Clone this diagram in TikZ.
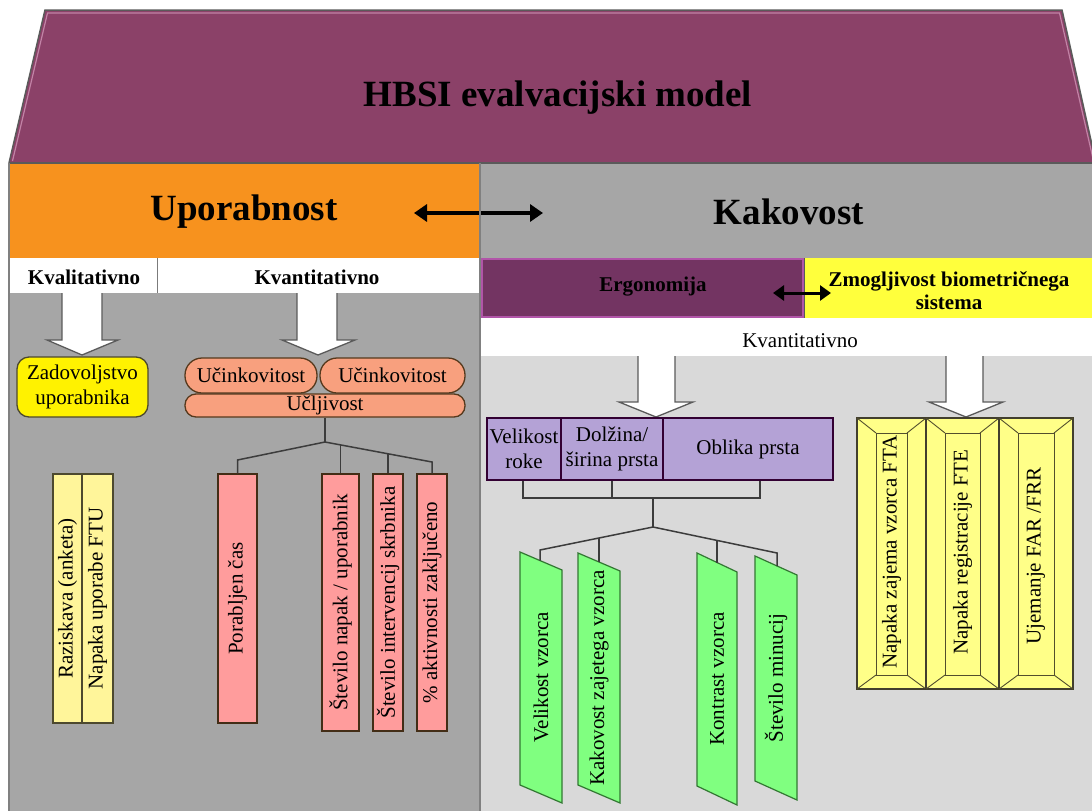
\documentclass[tikz,border=0pt]{standalone}
\usepackage{fontspec}
\setmainfont{Liberation Serif}
\usetikzlibrary{arrows.meta,calc}

\definecolor{roof}{HTML}{8B4168}
\definecolor{roofhi}{HTML}{C283A6}
\definecolor{edge}{HTML}{5A5A5A}
\definecolor{usab}{HTML}{F7921E}
\definecolor{midgray}{HTML}{A6A6A6}
\definecolor{palegray}{HTML}{D9D9D9}
\definecolor{ergo}{HTML}{733462}
\definecolor{ergoedge}{HTML}{B155A8}
\definecolor{perf}{HTML}{FFFF3C}
\definecolor{satis}{HTML}{FFF200}
\definecolor{paleyellow}{HTML}{FFF59A}
\definecolor{salmon}{HTML}{F8A07E}
\definecolor{rose}{HTML}{FF9C9C}
\definecolor{lilac}{HTML}{B4A2D6}
\definecolor{mint}{HTML}{80FF80}
\definecolor{bevelyellow}{HTML}{FFFF88}
\definecolor{wirecol}{HTML}{3C3C3C}

\newcommand\bodyfs{\fontsize{21}{25}\selectfont}
\newcommand\bigfs{\fontsize{37}{40}\selectfont}

\tikzset{
  boxline/.style={draw=edge, line width=1.3pt},
  vtext/.style={rotate=90, inner sep=0pt, font=\bodyfs},
  vbar/.style={boxline, vtext},
  rosebar/.style={vbar, fill=rose, draw=black!65!brown},
  yellowbar/.style={vbar, fill=paleyellow, draw=black!60!olive},
  pill/.style={boxline, fill=salmon, draw=black!55!brown, inner sep=0pt, font=\bodyfs},
  lilacbox/.style={boxline, fill=lilac, draw=black!60!violet, inner sep=0pt, font=\bodyfs, align=center},
  mintbar/.style={draw=black!55!green!60!gray, line width=1.2pt, fill=mint},
  wire/.style={draw=wirecol, line width=1.5pt},
  blockarrow/.style={draw=edge, line width=1.3pt, fill=white},
  dblarrow/.style={line width=3.5pt, {Triangle[length=13pt,width=17pt]}-{Triangle[length=13pt,width=17pt]}},
  smalldbl/.style={line width=3pt, {Triangle[length=11pt,width=15pt]}-{Triangle[length=11pt,width=15pt]}},
  bevelout/.style={draw=black!70!olive, line width=1.4pt, fill=bevelyellow},
  bevelin/.style={draw=black!55!olive, line width=0.9pt},
}

% bevelled yellow bar: name, left x, right x, text, text centre y
\newcommand\bevelbar[5]{%
  \draw[bevelout] (#2,418) rectangle (#3,689);
  \draw[bevelin] (#2+19,433) rectangle (#3-19,675);
  \draw[bevelin] (#2,418) -- (#2+19,433) (#3,418) -- (#3-19,433)
                 (#2,689) -- (#2+19,675) (#3,689) -- (#3-19,675);
  \node[vtext] (#1) at ({(#2+#3)/2},#5) {#4};
}

\begin{document}
\begin{tikzpicture}[x=1pt,y=-1pt]
\useasboundingbox (0,0) rectangle (1092,811);
\fill[white] (0,0) rectangle (1092,811);

% roof
\fill[roof] (45,10) -- (1062,10) -- (1096,163) -- (9,163) -- cycle;
\draw[roofhi, line width=1.2pt] (12.5,161) -- (47.5,13) -- (1059.5,13) -- (1094,163);
\draw[edge, line width=1.5pt] (9,163) -- (45,10) -- (1062,10) -- (1096,163);
\node[font=\bigfs\bfseries] (title) at (558,98) {HBSI evalvacijski model};

% main pillars
\fill[usab] (9,163) rectangle (480,258);
\fill[midgray] (480,163) rectangle (1092,258);
\draw[edge, line width=1.3pt] (9,163) -- (1092,163);
\node[font=\bigfs\bfseries] (upor) at (244,212) {Uporabnost};
\node[font=\bigfs\bfseries] (kak) at (789,212) {Kakovost};
\coordinate (ua) at (414,213);
\coordinate (ka) at (543,213);
\draw[dblarrow] (ua) -- (ka);

% usability panel
\fill[white] (9,258) rectangle (480,293);
\fill[midgray] (9,293) rectangle (480,811);
\draw[edge!80, line width=1pt] (157,258) -- (157,293);
\node[font=\bodyfs\bfseries] (kval) at (84,277) {Kvalitativno};
\node[font=\bodyfs\bfseries] (kvan) at (317,277) {Kvantitativno};

% quality panel
\fill[perf] (804,258) rectangle (1092,318);
\draw[ergoedge, fill=ergo, line width=1.6pt] (482,259) rectangle (803,317);
\draw[edge, line width=1pt] (804,258) -- (804,318);
\fill[white] (480,318) rectangle (1092,356);
\fill[palegray] (480,356) rectangle (1092,811);
\node[font=\bodyfs\bfseries] (ergt) at (653,287) {Ergonomija};
\node[font=\fontsize{21}{23}\selectfont\bfseries, align=center] (zmt) at (949,291) {Zmogljivost biometričnega\\sistema};
\coordinate (ea) at (773,293);
\coordinate (eb) at (831,293);
\draw[smalldbl] (ea) -- (eb);
\node[font=\bodyfs] (kvr) at (800,341) {Kvantitativno};

% panel borders
\draw[black!50, line width=1.6pt] (480,163) -- (480,811);
\draw[black!50, line width=1.6pt] (9,163) -- (9,811);

% block arrows
\draw[blockarrow] (62,293) -- (62,340) -- (47,340) -- (82,355) -- (118,340) -- (102,340) -- (102,293);
\draw[blockarrow] (297,293) -- (297,340) -- (282,340) -- (318,355) -- (355,340) -- (337,340) -- (337,293);
\draw[blockarrow] (638,356) -- (638,402) -- (619,402) -- (656,417) -- (693,402) -- (675,402) -- (675,356);
\draw[blockarrow] (946,356) -- (946,402) -- (929,402) -- (966,417) -- (1003,402) -- (983,402) -- (983,356);

% qualitative usability
\node[boxline, draw=black!60!olive, fill=satis, rounded corners=12pt, minimum width=131pt, minimum height=60pt,
      inner sep=0pt, font=\bodyfs, align=center] (zad) at (82.5,387) {Zadovoljstvo\\uporabnika};
\node[yellowbar, minimum width=249pt, minimum height=29pt] (y1) at (67.5,598.5) {Raziskava (anketa)};
\node[yellowbar, minimum width=249pt, minimum height=31pt] (y2) at (97.5,598.5) {Napaka uporabe FTU};

% quantitative usability
\node[pill, rounded corners=17pt, minimum width=132pt, minimum height=35pt] (uc1) at (251,375.5) {Učinkovitost};
\node[pill, rounded corners=17pt, minimum width=145pt, minimum height=35pt] (uc2) at (392.5,375.5) {Učinkovitost};
\node[pill, rounded corners=11pt, minimum width=280pt, minimum height=23pt] (ucl) at (325,405.5) {Učljivost};

\node[rosebar, minimum width=249pt, minimum height=39pt] (p1) at (237.5,598.5) {Porabljen čas};
\node[rosebar, minimum width=257pt, minimum height=37pt] (p2) at (340.5,602.5) {Število napak / uporabnik};
\node[rosebar, minimum width=257pt, minimum height=30pt] (p3) at (388,602.5) {Število intervencij skrbnika};
\node[rosebar, minimum width=257pt, minimum height=30pt] (p4) at (432,602.5) {\% aktivnosti zaključeno};

\coordinate (uj) at (325,442);
\coordinate (ul) at (237.5,460);
\coordinate (ur) at (432,462);
\coordinate (ub2) at (340.5,444.8);
\coordinate (ub3) at (388,453.7);
\draw[wire] (ucl.south) -- (uj);
\draw[wire] (uj) -- (ul) -- (p1.east);
\draw[wire] (uj) -- (ur) -- (p4.east);
\draw[wire] (ub2) -- (p2.east);
\draw[wire] (ub3) -- (p3.east);

% ergonomics
\node[lilacbox, minimum width=74pt, minimum height=62pt] (v1) at (524,449) {Velikost\\roke};
\node[lilacbox, minimum width=102pt, minimum height=62pt] (v2) at (612,449) {Dolžina/\\širina prsta};
\node[lilacbox, minimum width=170pt, minimum height=62pt] (v3) at (748,449) {Oblika prsta};

\coordinate (h1) at (523,498);
\coordinate (h2) at (612,498);
\coordinate (h3) at (760,498);
\coordinate (rj) at (653,498);
\coordinate (rk) at (653,527);
\draw[wire] (v1.south -| h1) -- (h1) -- (h3) -- (h3 |- v3.south);
\draw[wire] (v2.south) -- (h2);
\draw[wire] (rj) -- (rk);

\draw[mintbar] (520,552) -- (562,570) -- (562,803) -- (520,785) -- cycle;
\draw[mintbar] (578,553) -- (620,571) -- (620,803) -- (578,785) -- cycle;
\draw[mintbar] (697,553) -- (737,572) -- (737,805) -- (697,786) -- cycle;
\draw[mintbar] (755,556) -- (797,575) -- (797,800) -- (755,781) -- cycle;
\node[vtext] (gt1) at (541,677) {Velikost vzorca};
\node[vtext] (gt2) at (599,678) {Kakovost zajetega vzorca};
\node[vtext] (gt3) at (717,679) {Kontrast vzorca};
\node[vtext] (gt4) at (776,678) {Število minucij};

\coordinate (gtop1) at (540,560.6);
\coordinate (gtop2) at (599,561.5);
\coordinate (gtop3) at (717,562.5);
\coordinate (gtop4) at (777,566);
\coordinate (gl) at (540,550);
\coordinate (gr) at (777,553);
\coordinate (gb2) at (599,538.1);
\coordinate (gb3) at (717,540.4);
\draw[wire] (gtop1) -- (gl) -- (rk) -- (gr) -- (gtop4);
\draw[wire] (gb2) -- (gtop2);
\draw[wire] (gb3) -- (gtop3);

% biometric performance
\bevelbar{bt1}{857}{926}{Napaka zajema vzorca FTA}{552}
\bevelbar{bt2}{926}{999}{Napaka registracije FTE}{552}
\bevelbar{bt3}{999}{1073}{Ujemanje FAR /FRR}{556}

\end{tikzpicture}
\end{document}
